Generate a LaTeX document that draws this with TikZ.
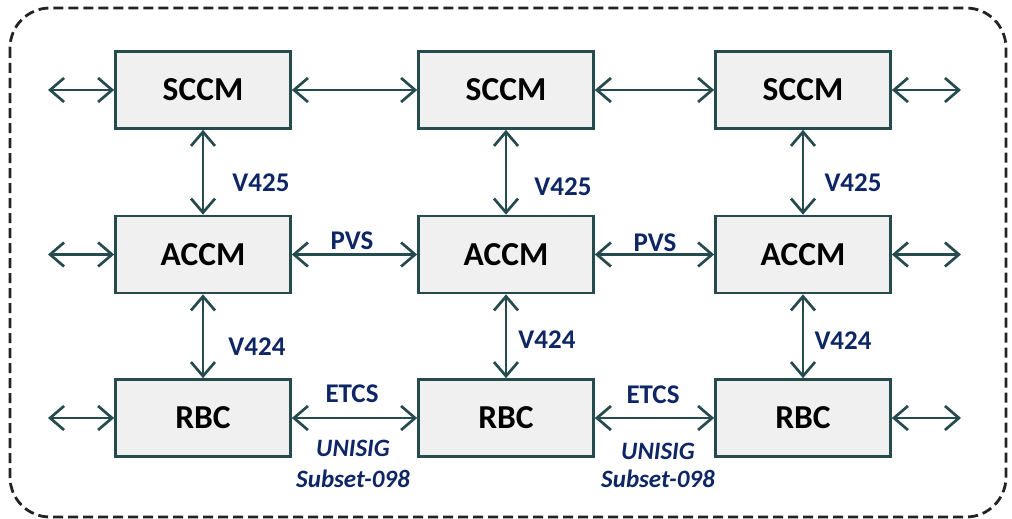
\documentclass[tikz,border=0pt]{standalone}
\usepackage{fontspec}
\setmainfont{Carlito}
\usetikzlibrary{arrows.meta}

\definecolor{edge}{RGB}{38,75,78}
\definecolor{boxfill}{RGB}{240,240,240}
\definecolor{navy}{RGB}{14,38,100}
\definecolor{frame}{RGB}{35,35,35}

\tikzset{
  unit/.style={draw=edge, line width=2.7pt, fill=boxfill, minimum width=175pt,
    minimum height=77pt, inner sep=0pt, font=\fontsize{33.5}{40}\selectfont\bfseries},
  link/.style={draw=edge, line width=2.7pt,
    {Straight Barb[length=14pt,width=24pt]}-{Straight Barb[length=14pt,width=24pt]}},
  tag/.style={text=navy, inner sep=0pt, font=\fontsize{27}{32}\selectfont\bfseries},
  spec/.style={text=navy, inner sep=0pt, font=\fontsize{25}{30}\selectfont\bfseries\itshape},
}

\begin{document}
\begin{tikzpicture}[x=1pt,y=-1pt]
\useasboundingbox (0,0) rectangle (1012,519);

% enclosing domain
\draw[frame, line width=2.8pt, dash pattern=on 10pt off 5pt, rounded corners=40pt]
  (10,8) rectangle (1006,517);

% control modules
\node[unit] (s1) at (203,90) {SCCM};
\node[unit] (s2) at (506,90) {SCCM};
\node[unit] (s3) at (803,90) {SCCM};
\node[unit] (a1) at (203,254.5) {ACCM};
\node[unit] (a2) at (506,254.5) {ACCM};
\node[unit] (a3) at (803,254.5) {ACCM};
\node[unit] (r1) at (203,418) {RBC};
\node[unit] (r2) at (506,418) {RBC};
\node[unit] (r3) at (803,418) {RBC};

% open ends towards neighbouring domains
\coordinate (sL) at (48,90);   \coordinate (sR) at (961,90);
\coordinate (aL) at (48,254.5);\coordinate (aR) at (961,254.5);
\coordinate (rL) at (48,418);  \coordinate (rR) at (961,418);

% horizontal links
\draw[link] (sL) -- (s1.west);
\draw[link] (s1.east) -- (s2.west);
\draw[link] (s2.east) -- (s3.west);
\draw[link] (s3.east) -- (sR);
\draw[link] (aL) -- (a1.west);
\draw[link] (a1.east) -- (a2.west);
\draw[link] (a2.east) -- (a3.west);
\draw[link] (a3.east) -- (aR);
\draw[link] (rL) -- (r1.west);
\draw[link] (r1.east) -- (r2.west);
\draw[link] (r2.east) -- (r3.west);
\draw[link] (r3.east) -- (rR);

% vertical links
\draw[link] (s1.south) -- (a1.north);
\draw[link] (s2.south) -- (a2.north);
\draw[link] (s3.south) -- (a3.north);
\draw[link] (a1.south) -- (r1.north);
\draw[link] (a2.south) -- (r2.north);
\draw[link] (a3.south) -- (r3.north);

% interface labels
\node[tag] (v425a) at (261,183) {V425};
\node[tag] (v425b) at (563,187) {V425};
\node[tag] (v425c) at (853,183) {V425};
\node[tag] (v424a) at (257,347) {V424};
\node[tag] (v424b) at (547,340) {V424};
\node[tag] (v424c) at (843,341) {V424};
\node[tag] (pvsa) at (352,241) {PVS};
\node[tag] (pvsb) at (655,243) {PVS};
\node[tag] (etcsa) at (352,394) {ETCS};
\node[tag] (etcsb) at (653,395) {ETCS};
\node[spec] (unia) at (353,448) {UNISIG};
\node[spec] (suba) at (353,479) {Subset-098};
\node[spec] (unib) at (658,451) {UNISIG};
\node[spec] (subb) at (658,479) {Subset-098};
\end{tikzpicture}
\end{document}
